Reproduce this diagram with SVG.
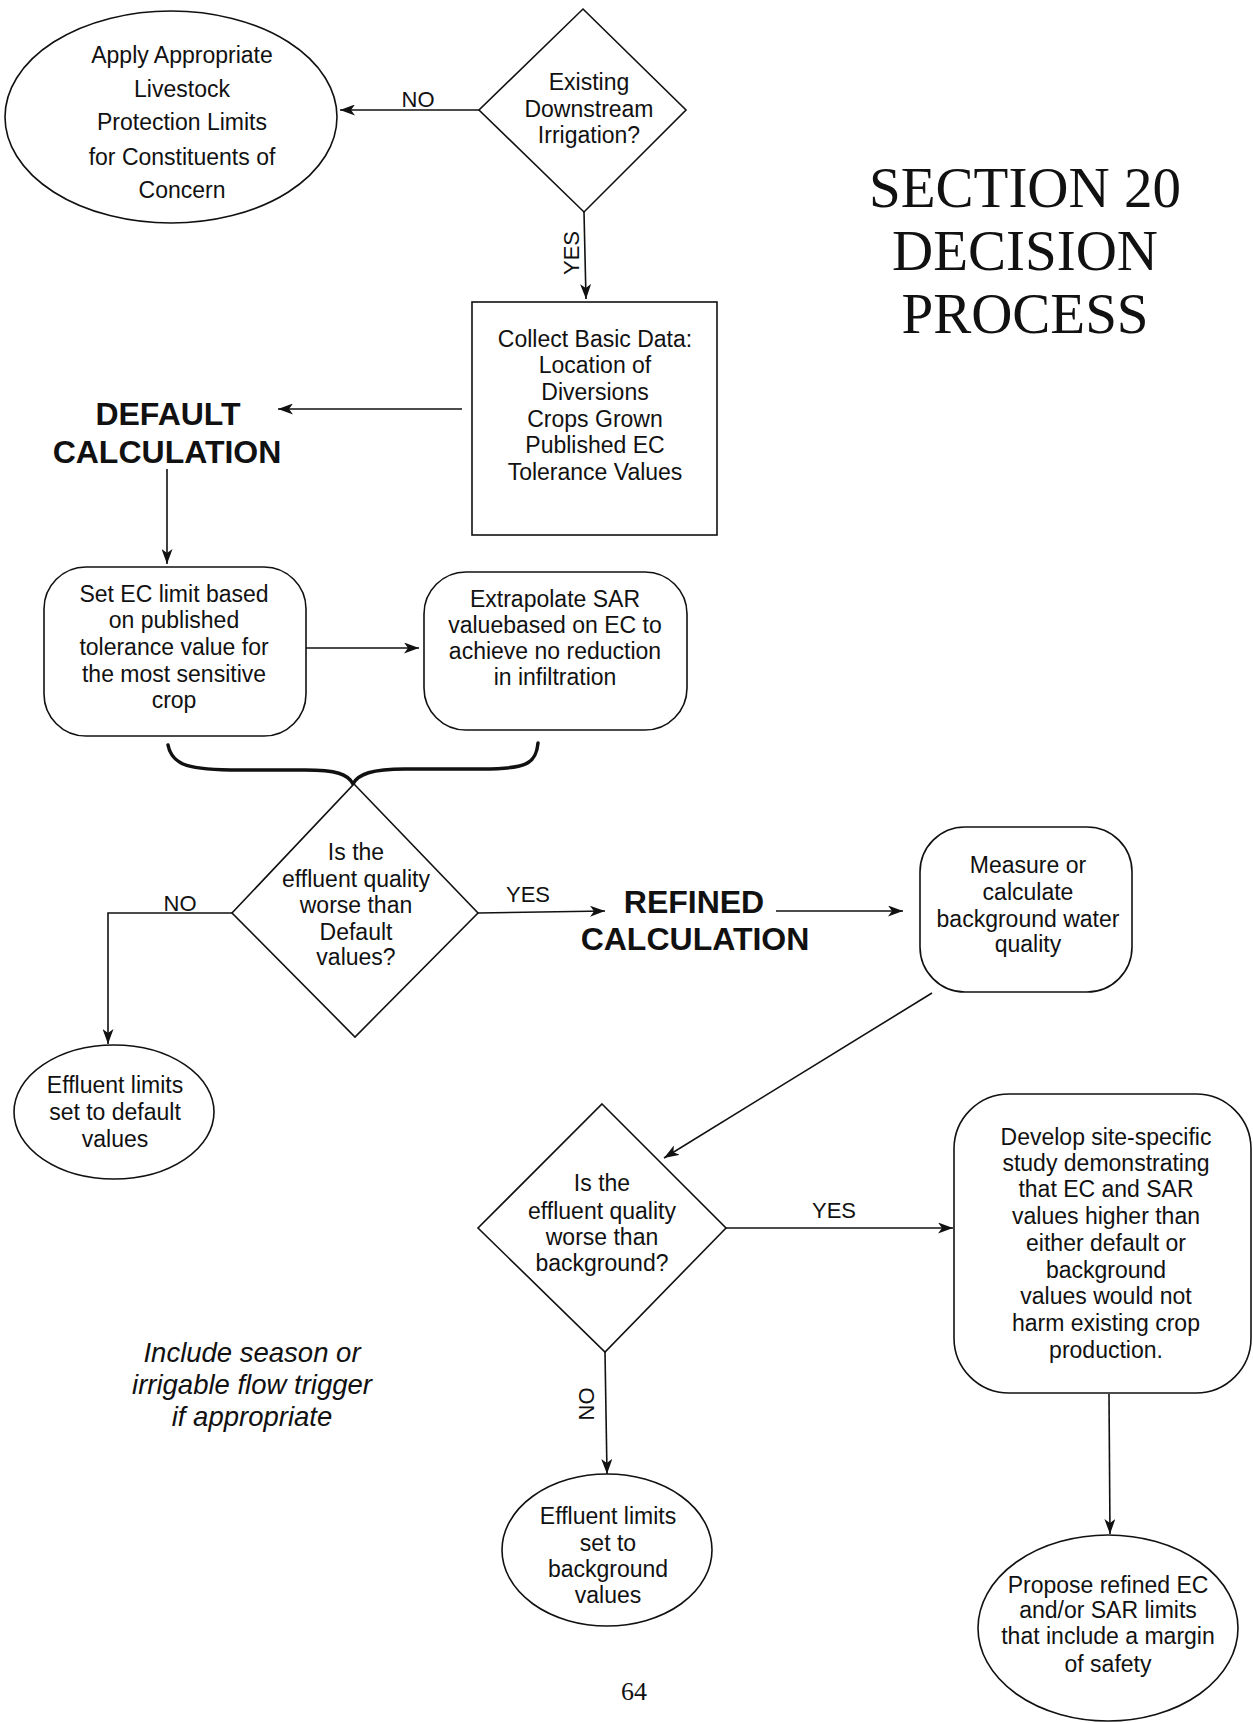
<svg xmlns="http://www.w3.org/2000/svg" width="1253" height="1723" viewBox="0 0 1253 1723">
<defs>
<marker id="ah" markerUnits="userSpaceOnUse" markerWidth="16" markerHeight="11" refX="15" refY="5.5" orient="auto">
<path d="M0,0 L15,5.5 L0,11 L4,5.5 z" fill="#111"/>
</marker>
</defs>
<style>
.s{fill:none;stroke:#111;stroke-width:1.6}
.n{fill:#fff;stroke:#111;stroke-width:1.6}
.c{fill:none;stroke:#111;stroke-width:1.6;marker-end:url(#ah)}
text{font-family:"Liberation Sans",Arial,sans-serif;fill:#111;text-anchor:middle}
.t{font-size:23px}
.l{font-size:22px}
.b{font-size:32px;font-weight:bold}
.i{font-size:27.5px;font-style:italic}
.ser{font-family:"Liberation Serif","Times New Roman",serif}
</style>
<rect width="1253" height="1723" fill="#fff"/>

<g id="title">
<text class="ser" x="1025" y="207" font-size="57">SECTION 20</text>
<text class="ser" x="1025" y="270" font-size="57">DECISION</text>
<text class="ser" x="1025" y="333" font-size="57">PROCESS</text>
</g>

<g id="connectors">
<line class="c" x1="479" y1="110" x2="340" y2="110"/>
<text class="l" x="418" y="107">NO</text>
<line class="c" x1="584" y1="212" x2="586" y2="299"/>
<text class="l" transform="translate(579,253) rotate(-90)">YES</text>
<line class="c" x1="462" y1="409" x2="278" y2="409"/>
<line class="c" x1="167" y1="469" x2="167" y2="564"/>
<line class="c" x1="306" y1="648" x2="419" y2="648"/>
<path d="M168,745 C172,766 190,770 240,770 L305,770 C336,770 348,774 353,784 C358,774 372,769 405,769 L482,769 C526,769 536,764 538,743" fill="none" stroke="#111" stroke-width="3.5" stroke-linecap="round"/>
<polyline class="c" points="232,913 108,913 108,1044"/>
<text class="l" x="180" y="911">NO</text>
<line class="c" x1="478" y1="913" x2="605" y2="911"/>
<text class="l" x="528" y="902">YES</text>
<line class="c" x1="776" y1="911" x2="903" y2="911"/>
<line class="c" x1="932" y1="993" x2="664" y2="1158"/>
<line class="c" x1="726" y1="1228" x2="953" y2="1228"/>
<text class="l" x="834" y="1218">YES</text>
<line class="c" x1="605" y1="1352" x2="607" y2="1474"/>
<text class="l" transform="translate(594,1404) rotate(-90)">NO</text>
<line class="c" x1="1109" y1="1394" x2="1110" y2="1534"/>
</g>

<g id="livestock">
<ellipse class="n" cx="171" cy="117" rx="166" ry="106"/>
<text class="t" x="182" y="63">Apply Appropriate</text>
<text class="t" x="182" y="97">Livestock</text>
<text class="t" x="182" y="130">Protection Limits</text>
<text class="t" x="182" y="165">for Constituents of</text>
<text class="t" x="182" y="198">Concern</text>
</g>

<g id="irrigation">
<polygon class="n" points="583,9 686,110 584,212 479,110"/>
<text class="t" x="589" y="90">Existing</text>
<text class="t" x="589" y="117">Downstream</text>
<text class="t" x="589" y="143">Irrigation?</text>
</g>

<g id="collect">
<rect class="n" x="472" y="302" width="245" height="233"/>
<text class="t" x="595" y="347">Collect Basic Data:</text>
<text class="t" x="595" y="373">Location of</text>
<text class="t" x="595" y="400">Diversions</text>
<text class="t" x="595" y="427">Crops Grown</text>
<text class="t" x="595" y="453">Published EC</text>
<text class="t" x="595" y="480">Tolerance Values</text>
</g>

<g id="default">
<text class="b" x="168" y="425">DEFAULT</text>
<text class="b" x="167" y="463">CALCULATION</text>
</g>

<g id="setec">
<rect class="n" x="44" y="567" width="262" height="169" rx="42" ry="42"/>
<text class="t" x="174" y="602">Set EC limit based</text>
<text class="t" x="174" y="628">on published</text>
<text class="t" x="174" y="655">tolerance value for</text>
<text class="t" x="174" y="682">the most sensitive</text>
<text class="t" x="174" y="708">crop</text>
</g>

<g id="sar">
<rect class="n" x="424" y="572" width="263" height="158" rx="42" ry="42"/>
<text class="t" x="555" y="607">Extrapolate SAR</text>
<text class="t" x="555" y="633">valuebased on EC to</text>
<text class="t" x="555" y="659">achieve no reduction</text>
<text class="t" x="555" y="685">in infiltration</text>
</g>

<g id="decision-default">
<polygon class="n" points="354,784 478,913 355,1037 232,913"/>
<text class="t" x="356" y="860">Is the</text>
<text class="t" x="356" y="887">effluent quality</text>
<text class="t" x="356" y="913">worse than</text>
<text class="t" x="356" y="940">Default</text>
<text class="t" x="356" y="965">values?</text>
</g>

<g id="refined">
<text class="b" x="694" y="913">REFINED</text>
<text class="b" x="695" y="950">CALCULATION</text>
</g>

<g id="measure">
<rect class="n" x="920" y="827" width="212" height="165" rx="45" ry="45"/>
<text class="t" x="1028" y="873">Measure or</text>
<text class="t" x="1028" y="900">calculate</text>
<text class="t" x="1028" y="927">background water</text>
<text class="t" x="1028" y="952">quality</text>
</g>

<g id="effluent-default">
<ellipse class="n" cx="114" cy="1112" rx="100" ry="67"/>
<text class="t" x="115" y="1093">Effluent limits</text>
<text class="t" x="115" y="1120">set to default</text>
<text class="t" x="115" y="1147">values</text>
</g>

<g id="decision-background">
<polygon class="n" points="602,1104 726,1228 605,1352 478,1228"/>
<text class="t" x="602" y="1191">Is the</text>
<text class="t" x="602" y="1219">effluent quality</text>
<text class="t" x="602" y="1245">worse than</text>
<text class="t" x="602" y="1271">background?</text>
</g>

<g id="develop">
<rect class="n" x="954" y="1094" width="297" height="299" rx="55" ry="55"/>
<text class="t" x="1106" y="1145">Develop site-specific</text>
<text class="t" x="1106" y="1171">study demonstrating</text>
<text class="t" x="1106" y="1197">that EC and SAR</text>
<text class="t" x="1106" y="1224">values higher than</text>
<text class="t" x="1106" y="1251">either default or</text>
<text class="t" x="1106" y="1278">background</text>
<text class="t" x="1106" y="1304">values would not</text>
<text class="t" x="1106" y="1331">harm existing  crop</text>
<text class="t" x="1106" y="1358">production.</text>
</g>

<g id="note">
<text class="i" x="252" y="1362">Include season or</text>
<text class="i" x="252" y="1394">irrigable flow trigger</text>
<text class="i" x="252" y="1426">if appropriate</text>
</g>

<g id="effluent-background">
<ellipse class="n" cx="607" cy="1550" rx="105" ry="76"/>
<text class="t" x="608" y="1524">Effluent limits</text>
<text class="t" x="608" y="1551">set to</text>
<text class="t" x="608" y="1577">background</text>
<text class="t" x="608" y="1603">values</text>
</g>

<g id="propose">
<ellipse class="n" cx="1108" cy="1628" rx="130" ry="93"/>
<text class="t" x="1108" y="1593">Propose refined EC</text>
<text class="t" x="1108" y="1618">and/or SAR limits</text>
<text class="t" x="1108" y="1644">that include a margin</text>
<text class="t" x="1108" y="1672">of safety</text>
</g>

<g id="page">
<text class="ser" x="634" y="1700" font-size="26">64</text>
</g>
</svg>
